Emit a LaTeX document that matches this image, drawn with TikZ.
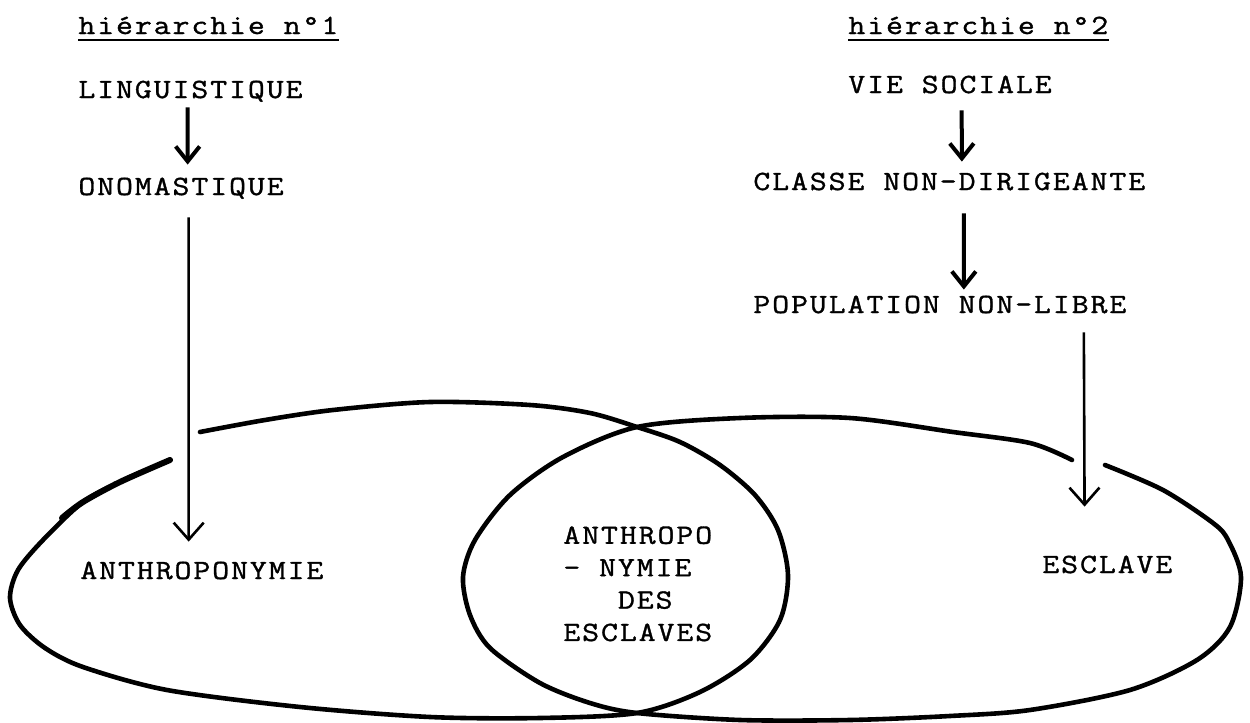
\documentclass[tikz,border=0pt]{standalone}
\usepackage{fontspec}
\newfontfamily\tw[LetterSpace=7,FakeStretch=1.18,FakeBold=1.2]{Latin Modern Mono}
\usetikzlibrary{arrows.meta}
\begin{document}
\begin{tikzpicture}[x=0.5pt,y=-0.5pt,
  lbl/.style={anchor=base west,inner sep=0pt,text height=8pt,text depth=0pt,font=\tw\fontsize{13.9pt}{16.2pt}\selectfont},
  lenstxt/.style={anchor=north west,inner sep=0pt,align=left,font=\tw\fontsize{13.9pt}{16.2pt}\selectfont},
  shortarr/.style={line width=2pt,-{Straight Barb[length=7.5pt,width=12pt]}},
  longarr/.style={line width=1.3pt,-{Straight Barb[length=8.5pt,width=15pt]}},
  loopline/.style={line width=2.3pt,line cap=round,line join=round},
  uline/.style={line width=1pt}]
\fill[white] (0,0) rectangle (1250,723);
\useasboundingbox (0,0) rectangle (1250,723);

% headings
\node[lbl] (h1) at (78,34) {hiérarchie n°1};
\node[lbl] (h2) at (848,34) {hiérarchie n°2};
\draw[uline] ([yshift=-2.75pt]h1.base west) -- ([yshift=-2.75pt]h1.base east);
\draw[uline] ([yshift=-2.75pt]h2.base west) -- ([yshift=-2.75pt]h2.base east);

% hierarchy 1
\node[lbl] (L1) at (78,98) {LINGUISTIQUE};
\node[lbl] (O1) at (78,195) {ONOMASTIQUE};
\node[lbl] (A1) at (80,579) {ANTHROPONYMIE};

% hierarchy 2
\node[lbl] (VS) at (848,93) {VIE SOCIALE};
\node[lbl] (CN) at (753,190) {CLASSE NON-DIRIGEANTE};
\node[lbl] (PN) at (753,313) {POPULATION NON-LIBRE};
\node[lbl] (ES) at (1042,573) {ESCLAVE};

% lens text
\node[lenstxt] (LN) at (563,526) {ANTHROPO\\- NYMIE\\\phantom{AAA}DES\\ESCLAVES};

% arrows
\draw[shortarr] ([xshift=-1.4pt,yshift=-4.5pt]L1.south) -- ([xshift=3.3pt,yshift=7pt]O1.north);
\draw[longarr] ([xshift=3.8pt,yshift=-11pt]O1.south) -- ([xshift=-6.6pt,yshift=10.5pt]A1.north);
\draw[shortarr] ([xshift=5.8pt,yshift=-8.5pt]VS.south) -- ([xshift=6.3pt,yshift=6pt]CN.north);
\draw[shortarr] ([xshift=7.3pt,yshift=-11.5pt]CN.south) -- ([xshift=12pt,yshift=3.5pt]PN.north);
\draw[longarr] ([xshift=72pt,yshift=-9.5pt]PN.south) -- ([xshift=-11.4pt,yshift=25pt]ES.north);

% left ellipse
\draw[loopline] plot[smooth] coordinates {
 (170,460) (120,482) (83,502) (43,540) (18,570) (10,598) (20,625) (45,648)
 (83,667) (167,690) (300,707) (430,717) (540,718) (637,713) (700,692)
 (750,660) (780,620) (788,575) (778,530) (755,495) (720,465) (680,442)
 (637,427) (590,413) (530,405) (430,402) (333,410) (265,420) (200,432)};
\draw[loopline,line width=3pt] plot[smooth] coordinates {(170,460) (120,482) (83,502) (62,518)};

% right ellipse
\draw[loopline] plot[smooth] coordinates {
 (1072,460) (1030,443) (953,432) (850,418) (740,418) (637,427) (563,457)
 (510,495) (475,540) (463,577) (470,615) (490,648) (540,683) (590,703)
 (637,713) (740,720) (850,720) (950,716) (1030,710) (1130,690) (1197,660)
 (1230,627) (1241,577) (1228,540) (1213,523) (1163,490) (1105,465)};
\end{tikzpicture}
\end{document}
